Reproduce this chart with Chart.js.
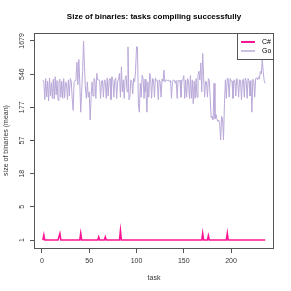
<!DOCTYPE html>
<html>
<head>
<meta charset="utf-8">
<script src="https://cdn.jsdelivr.net/npm/chart.js@4"></script>
<style>
  html, body { margin: 0; padding: 0; background: #fff; }
  canvas { display: block; }
</style>
</head>
<body>
<canvas id="sizeChart" width="291" height="291"></canvas>
<script>
// ---- data ----
const chartTitle = 'Size of binaries: tasks compiling successfully';
const seriesNames = ['C#', 'Go'];
const seriesColors = ['#ff1493', '#b9a8d8'];
const xTicks = [0, 50, 100, 150, 200];

const csharpSizes = [
  1, 1.37, 1, 1, 1, 1, 1, 1, 1, 1, 1, 1, 1, 1, 1, 1, 1, 1, 1.48, 1,
  1, 1, 1, 1, 1, 1, 1, 1, 1, 1, 1, 1, 1, 1, 1, 1, 1, 1, 1, 1,
  1.5, 1, 1, 1, 1, 1, 1, 1, 1, 1, 1, 1, 1, 1, 1, 1, 1, 1, 1, 1.21,
  1, 1, 1, 1, 1, 1, 1.21, 1, 1, 1, 1, 1, 1, 1, 1, 1, 1, 1, 1, 1,
  1, 1, 1.74, 1, 1, 1, 1, 1, 1, 1, 1, 1, 1, 1, 1, 1, 1, 1, 1, 1,
  1, 1, 1, 1, 1, 1, 1, 1, 1, 1, 1, 1, 1, 1, 1, 1, 1, 1, 1, 1,
  1, 1, 1, 1, 1, 1, 1, 1, 1, 1, 1, 1, 1, 1, 1, 1, 1, 1, 1, 1,
  1, 1, 1, 1, 1, 1, 1, 1, 1, 1, 1, 1, 1, 1, 1, 1, 1, 1, 1, 1,
  1, 1, 1, 1, 1, 1, 1, 1, 1, 1.5, 1, 1, 1, 1, 1, 1.31, 1, 1, 1, 1,
  1, 1, 1, 1, 1, 1, 1, 1, 1, 1, 1, 1, 1, 1, 1, 1.5, 1, 1, 1, 1,
  1, 1, 1, 1, 1, 1, 1, 1, 1, 1, 1, 1, 1, 1, 1, 1, 1, 1, 1, 1,
  1, 1, 1, 1, 1, 1, 1, 1, 1, 1, 1, 1, 1, 1, 1, 1
];

const goSizes = [
  445, 420, 230, 470, 250, 430, 220, 480, 260, 410,
  240, 460, 235, 500, 270, 440, 225, 420, 460, 250,
  430, 240, 470, 245, 420, 400, 230, 450, 260, 470,
  430, 240, 160, 420, 440, 500, 820, 380, 900, 420,
  150, 300, 600, 1679, 700, 330, 240, 420, 250, 300,
  115, 250, 420, 260, 470, 450, 240, 560, 450, 450,
  445, 240, 430, 440, 250, 450, 430, 240, 480, 260,
  440, 470, 230, 500, 450, 250, 440, 480, 240, 420,
  460, 560, 250, 700, 300, 450, 240, 470, 520, 300,
  1375, 230, 250, 450, 430, 280, 470, 420, 600, 1375,
  1375, 200, 150, 400, 250, 530, 470, 240, 460, 300,
  150, 420, 250, 560, 460, 240, 470, 450, 250, 480,
  440, 440, 230, 450, 420, 250, 460, 430, 625, 420,
  445, 445, 440, 445, 420, 440, 240, 430, 445, 445,
  400, 440, 240, 445, 430, 445, 250, 440, 445, 520,
  240, 450, 250, 470, 420, 240, 520, 240, 450, 200,
  430, 240, 470, 250, 520, 600, 450, 800, 300, 1100,
  500, 250, 430, 420, 250, 470, 440, 230, 123, 130,
  115, 400, 120, 140, 120, 110, 115, 100, 58, 130,
  120, 58, 200, 450, 240, 480, 460, 250, 470, 430,
  430, 240, 450, 440, 260, 470, 430, 250, 450, 445,
  230, 440, 460, 250, 480, 440, 240, 470, 430, 260,
  440, 150, 460, 430, 250, 470, 480, 450, 500, 460,
  600, 550, 883, 600, 440, 400
];

const tasks = goSizes.map((_, i) => i + 1);

// y axis is log(1 + size), 7 even ticks from min to max (like the R plot)
const allSizes = csharpSizes.concat(goSizes);
const yLo = Math.log1p(Math.min(...allSizes));
const yHi = Math.log1p(Math.max(...allSizes));
const yTicks = [0, 1, 2, 3, 4, 5, 6].map(k => yLo + k * (yHi - yLo) / 6);
const yPad = (yHi - yLo) * 0.04;
const xPad = (tasks[tasks.length - 1] - tasks[0]) * 0.04;

const FONT = '"Liberation Sans", Arial, sans-serif';
const AXIS_GREY = '#555';
const TEXT_GREY = '#333';

// box, title, rotated y labels and the legend, drawn the R way
const framePlugin = {
  id: 'frame',
  afterDraw(chart) {
    const { ctx, chartArea: a, scales } = chart;
    ctx.save();

    ctx.strokeStyle = AXIS_GREY;
    ctx.lineWidth = 1;
    ctx.strokeRect(a.left + 0.5, a.top + 0.5, a.right - a.left - 1, a.bottom - a.top);

    ctx.fillStyle = '#000';
    ctx.font = 'bold 8px ' + FONT;
    ctx.textAlign = 'center';
    ctx.textBaseline = 'middle';
    ctx.fillText(chartTitle, (a.left + a.right) / 2, 17);

    ctx.fillStyle = TEXT_GREY;
    ctx.font = '7px ' + FONT;
    yTicks.forEach(v => {
      const y = scales.y.getPixelForValue(v);
      ctx.save();
      ctx.translate(a.left - 12, y);
      ctx.rotate(-Math.PI / 2);
      ctx.fillText(String(Math.round(Math.expm1(v))), 0, 0);
      ctx.restore();
    });

    // legend, top right corner inside the box
    const lw = 37, lh = 26;
    const lx = a.right - lw, ly = a.top;
    ctx.fillStyle = '#fff';
    ctx.fillRect(lx, ly, lw, lh);
    ctx.strokeStyle = AXIS_GREY;
    ctx.strokeRect(lx + 0.5, ly + 0.5, lw - 1, lh);
    seriesNames.forEach((name, i) => {
      const y = ly + 9 + i * 9;
      ctx.strokeStyle = seriesColors[i];
      ctx.lineWidth = i === 0 ? 2 : 1.5;
      ctx.beginPath();
      ctx.moveTo(lx + 4, y);
      ctx.lineTo(lx + 18, y);
      ctx.stroke();
      ctx.fillStyle = '#000';
      ctx.textAlign = 'left';
      ctx.fillText(name, lx + 25, y);
    });

    ctx.restore();
  }
};

new Chart(document.getElementById('sizeChart'), {
  type: 'line',
  data: {
    datasets: [
      {
        label: seriesNames[0],
        data: tasks.map((t, i) => ({ x: t, y: Math.log1p(csharpSizes[i]) })),
        borderColor: seriesColors[0],
        borderWidth: 1.6,
        pointRadius: 0,
        tension: 0
      },
      {
        label: seriesNames[1],
        data: tasks.map((t, i) => ({ x: t, y: Math.log1p(goSizes[i]) })),
        borderColor: seriesColors[1],
        borderWidth: 1,
        pointRadius: 0,
        tension: 0
      }
    ]
  },
  options: {
    responsive: false,
    animation: false,
    layout: { padding: { top: 33, right: 17, left: 0, bottom: 0 } },
    plugins: {
      legend: { display: false },
      title: { display: false },
      tooltip: { enabled: false }
    },
    scales: {
      x: {
        type: 'linear',
        min: tasks[0] - xPad,
        max: tasks[tasks.length - 1] + xPad,
        afterBuildTicks: s => { s.ticks = xTicks.map(v => ({ value: v })); },
        afterFit: s => { s.height = 43; },
        border: { display: false },
        grid: { drawOnChartArea: false, drawTicks: true, tickLength: 5, color: AXIS_GREY },
        ticks: { color: TEXT_GREY, padding: 4, font: { family: FONT, size: 7 } },
        title: {
          display: true, text: 'task', color: TEXT_GREY,
          font: { family: FONT, size: 7 }, padding: { top: 0, bottom: 9 }
        }
      },
      y: {
        type: 'linear',
        min: yLo - yPad,
        max: yHi + yPad,
        afterBuildTicks: s => { s.ticks = yTicks.map(v => ({ value: v })); },
        afterFit: s => { s.width = 34; },
        border: { display: false },
        grid: { drawOnChartArea: false, drawTicks: true, tickLength: 4, color: AXIS_GREY },
        ticks: { display: false },
        title: {
          display: true, text: 'size of binaries (mean)', color: TEXT_GREY,
          font: { family: FONT, size: 7 }, padding: { top: 2, bottom: 0 }
        }
      }
    }
  },
  plugins: [framePlugin]
});
</script>
</body>
</html>
